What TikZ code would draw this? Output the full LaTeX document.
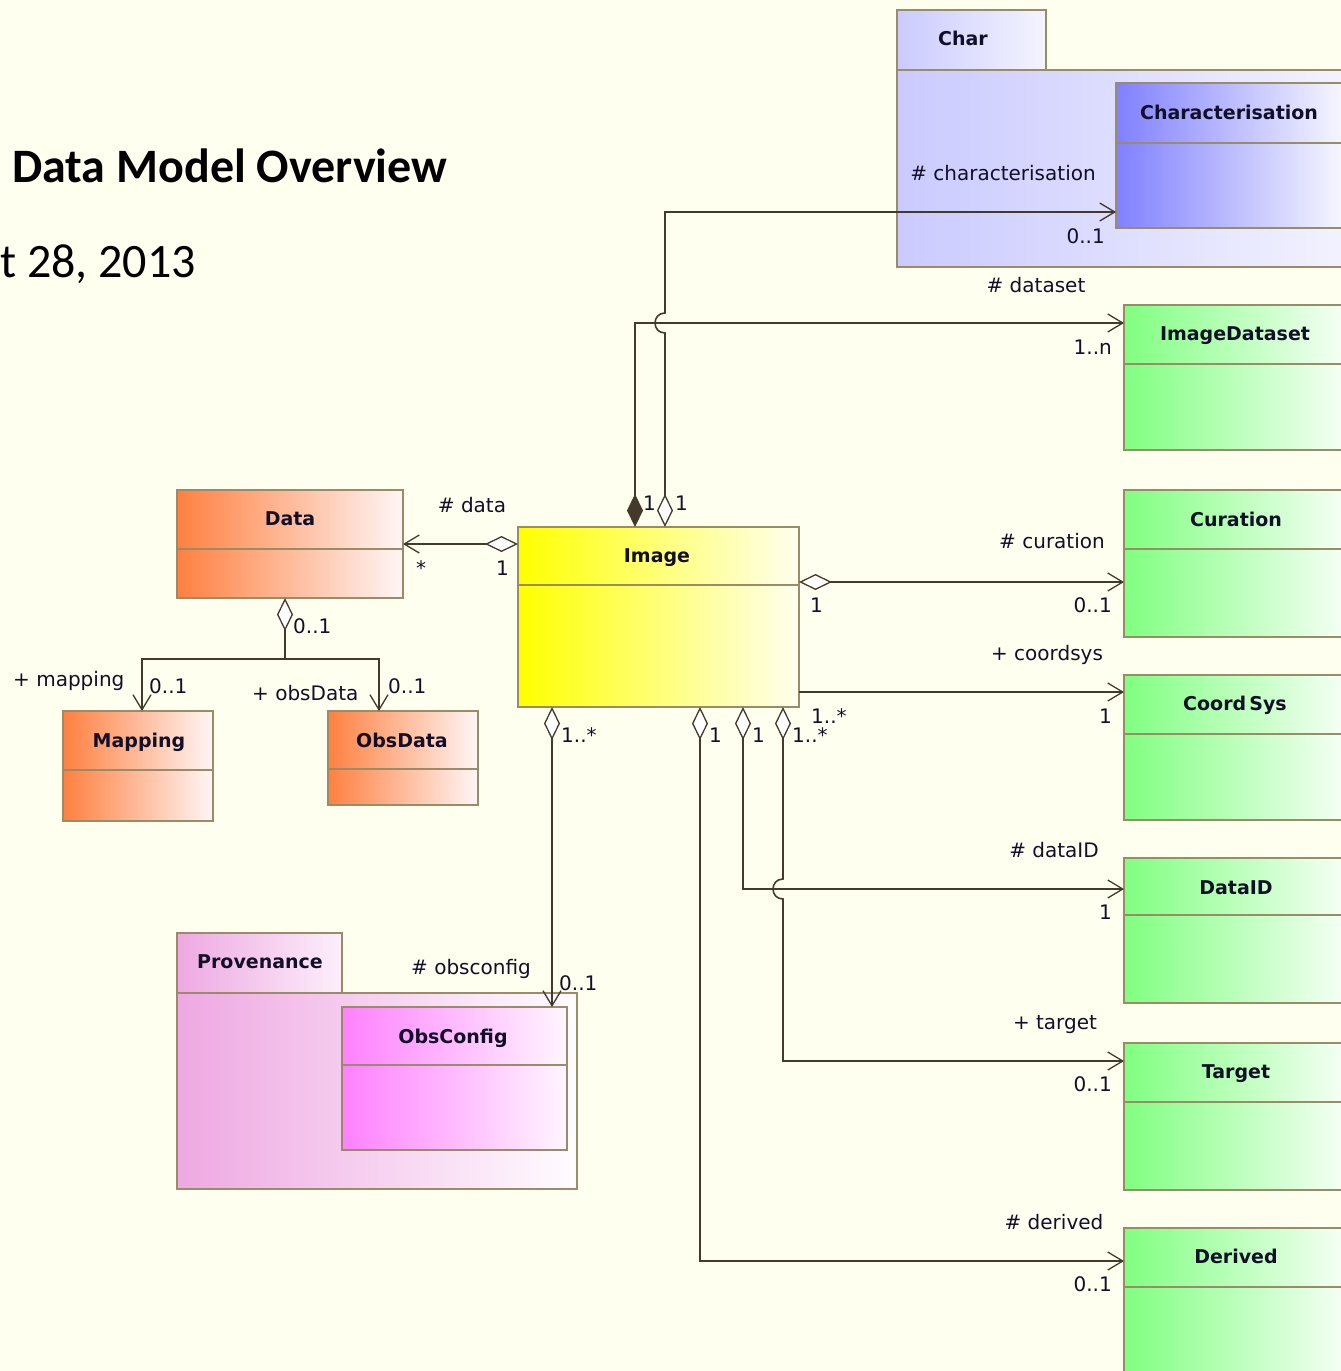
\documentclass[tikz,border=0pt]{standalone}
\usepackage{fontspec}
\setmainfont{DejaVu Sans}
\newfontfamily\headfont{Carlito}
\usetikzlibrary{arrows.meta,calc}

\definecolor{paper}{RGB}{255,255,240}
\definecolor{frame}{RGB}{155,140,105}
\definecolor{wire}{RGB}{68,58,44}
\definecolor{ink}{RGB}{18,16,40}
% class fills (left -> right gradient)
\definecolor{violetL}{RGB}{128,128,255}
\definecolor{violetR}{RGB}{246,246,255}
\definecolor{lilacL}{RGB}{202,202,255}
\definecolor{lilacR}{RGB}{244,244,255}
\definecolor{greenL}{RGB}{128,255,128}
\definecolor{greenR}{RGB}{246,255,246}
\definecolor{yellowL}{RGB}{255,255,0}
\definecolor{yellowR}{RGB}{255,255,240}
\definecolor{orangeL}{RGB}{255,128,64}
\definecolor{orangeR}{RGB}{255,246,246}
\definecolor{pinkL}{RGB}{238,168,226}
\definecolor{pinkR}{RGB}{255,252,255}
\definecolor{magentaL}{RGB}{255,128,255}
\definecolor{magentaR}{RGB}{255,246,255}

\tikzset{
  classbox/.style={draw=frame, line width=1.6pt, inner sep=0pt, outer sep=0pt, anchor=north west},
  cname/.style={font=\bfseries\fontsize{19}{22}\selectfont, text=ink, anchor=base, inner sep=0pt},
  role/.style={font=\fontsize{20}{24}\selectfont, text=ink, anchor=base, inner sep=0pt},
  multl/.style={role, anchor=base west},
  multr/.style={role, anchor=base east},
  assoc/.style={draw=wire, line width=1.6pt},
  nav/.style={arrows={-Straight Barb[length=15pt,width=18pt,line width=1.3pt]}},
  agg/.style={arrows={Diamond[fill=white,length=33pt,width=16pt,line width=1.3pt]-Straight Barb[length=15pt,width=18pt,line width=1.3pt]}},
  aggonly/.style={arrows={Diamond[fill=white,length=33pt,width=16pt,line width=1.3pt]-}},
  comp/.style={arrows={Diamond[fill=wire,length=33pt,width=16pt,line width=1.3pt]-Straight Barb[length=15pt,width=18pt,line width=1.3pt]}},
}

% #1 name, #2 top-left corner, #3 width, #4 height, #5 header height, #6/#7 gradient colours
\newcommand\umlclass[7]{%
  \node[classbox, left color=#6, right color=#7, minimum width=#3pt, minimum height=#4pt] (#1) at #2 {};
  \draw[frame, line width=1.6pt] ([yshift=-#5pt]#1.north west) -- ([yshift=-#5pt]#1.north east);
}

\begin{document}
\begin{tikzpicture}[x=1pt, y=-1pt]
  \fill[paper] (0,0) rectangle (1341,1371);
  \useasboundingbox (0,0) rectangle (1341,1371);
  \clip (0,0) rectangle (1341,1371);

  % heading
  \node[anchor=base west, inner sep=0pt, font=\headfont\bfseries\fontsize{48}{56}\selectfont] (title) at (12,182) {Data Model Overview};
  \node[anchor=base west, inner sep=0pt, font=\headfont\fontsize{48}{56}\selectfont] (date) at (0,277) {t 28, 2013};

  % Char package
  \node[classbox, left color=lilacL, right color=lilacR, minimum width=149pt, minimum height=60pt] (chartab) at (897,10) {};
  \node[classbox, left color=lilacL, right color=lilacR, minimum width=470pt, minimum height=197pt] (charpkg) at (897,70) {};
  \node[cname] (chartabT) at (963,45) {Char};

  % Provenance package
  \node[classbox, left color=pinkL, right color=pinkR!85!pinkL, minimum width=165pt, minimum height=60pt] (provtab) at (177,933) {};
  \node[classbox, left color=pinkL, right color=pinkR, minimum width=400pt, minimum height=196pt] (provpkg) at (177,993) {};
  \node[cname] (provtabT) at (260,968) {Provenance};

  % classes
  \umlclass{chz}{(1116,83)}{226}{145}{60}{violetL}{violetR}
  \node[cname] (chzT) at (1229,119) {Characterisation};

  \umlclass{imgds}{(1124,305)}{222}{145}{59}{greenL}{greenR}
  \node[cname] (imgdsT) at (1235,340) {ImageDataset};

  \umlclass{cur}{(1124,490)}{222}{147}{59}{greenL}{greenR}
  \node[cname] (curT) at (1236,526) {Curation};

  \umlclass{crd}{(1124,675)}{222}{145}{59}{greenL}{greenR}
  \node[cname] (crdT) at (1235,710) {Coord\,Sys};

  \umlclass{did}{(1124,858)}{222}{145}{57}{greenL}{greenR}
  \node[cname] (didT) at (1236,894) {DataID};

  \umlclass{tgt}{(1124,1043)}{222}{147}{59}{greenL}{greenR}
  \node[cname] (tgtT) at (1236,1078) {Target};

  \umlclass{der}{(1124,1228)}{222}{160}{59}{greenL}{greenR}
  \node[cname] (derT) at (1236,1263) {Derived};

  \umlclass{img}{(518,527)}{281}{180}{58}{yellowL}{yellowR}
  \node[cname] (imgT) at (657,562) {Image};

  \umlclass{data}{(177,490)}{226}{108}{59}{orangeL}{orangeR}
  \node[cname] (dataT) at (290,525) {Data};

  \umlclass{map}{(63,711)}{150}{110}{59}{orangeL}{orangeR}
  \node[cname] (mapT) at (139,747) {Mapping};

  \umlclass{obsd}{(328,711)}{150}{94}{58}{orangeL}{orangeR}
  \node[cname] (obsdT) at (402,747) {ObsData};

  \umlclass{obsc}{(342,1007)}{225}{143}{58}{magentaL}{magentaR}
  \node[cname] (obscT) at (453,1043) {ObsConfig};

  % Image -> Data
  \draw[assoc, agg] (img.west |- data.east) -- (data.east);
  \node[role] (lData) at (472,512) {\# data};
  \node[multl] (mDataA) at (416,575) {*};
  \node[multl] (mDataB) at (496,575) {1};

  % Data -> Mapping, ObsData
  \coordinate (fork) at (285,659);
  \draw[assoc, aggonly] ([xshift=108pt]data.south west) -- (fork);
  \draw[assoc, nav] (fork) -| ([xshift=79pt]map.north west);
  \draw[assoc, nav] (fork) -| ([xshift=51pt]obsd.north west);
  \node[multl] (mFork) at (293,633) {0..1};
  \node[multl] (lMap) at (13,686) {+ mapping};
  \node[multl] (mMap) at (149,693) {0..1};
  \node[multl] (lObsd) at (252,700) {+ obsData};
  \node[multl] (mObsd) at (388,693) {0..1};

  % Image -> ImageDataset
  \draw[assoc, comp] ([xshift=117pt]img.north west) |- ([yshift=-18pt]imgds.north west);
  \node[role] (lDs) at (1036,292) {\# dataset};
  \node[multr] (mDs) at (1112,354) {1..n};

  % Image -> Characterisation (hops over the dataset line)
  \draw[assoc, agg] ([xshift=147pt]img.north west) -- (665,333)
      .. controls (651.7,333) and (651.7,313) .. (665,313)
      |- ([yshift=-129pt]chz.north west);
  \node[role] (lChz) at (1003,180) {\# characterisation};
  \node[multr] (mChz) at (1105,243) {0..1};
  \node[multl] (mImgA) at (643,510) {1};
  \node[multl] (mImgB) at (675,510) {1};

  % Image -> Curation
  \draw[assoc, agg] ([yshift=-55pt]img.north east) -- ([yshift=-55pt]img.north east -| cur.west);
  \node[role] (lCur) at (1052,548) {\# curation};
  \node[multl] (mCurA) at (810,612) {1};
  \node[multr] (mCurB) at (1112,612) {0..1};

  % Image -> CoordSys
  \draw[assoc, nav] ([yshift=-165pt]img.north east) -- ([yshift=-165pt]img.north east -| crd.west);
  \node[role] (lCrd) at (1047,660) {+ coordsys};
  \node[multl] (mCrdA) at (811,723) {1..*};
  \node[multr] (mCrdB) at (1112,723) {1};

  % Image -> ObsConfig
  \draw[assoc, agg] ([xshift=34pt]img.south west) -- ([xshift=34pt]img.south west |- obsc.north);
  \node[role] (lObsc) at (471,974) {\# obsconfig};
  \node[multl] (mObsc) at (559,990) {0..1};
  \node[multl] (mObscA) at (561,742) {1..*};

  % Image -> Derived
  \draw[assoc, agg] ([xshift=182pt]img.south west) |- ([yshift=-33pt]der.north west);
  \node[role] (lDer) at (1054,1229) {\# derived};
  \node[multr] (mDer) at (1112,1291) {0..1};
  \node[multl] (mDerA) at (709,742) {1};

  % Image -> DataID
  \draw[assoc, agg] ([xshift=225pt]img.south west) |- ([yshift=-31pt]did.north west);
  \node[role] (lDid) at (1054,857) {\# dataID};
  \node[multr] (mDid) at (1112,919) {1};
  \node[multl] (mDidA) at (752,742) {1};

  % Image -> Target (hops over the dataID line)
  \draw[assoc, agg] ([xshift=265pt]img.south west) -- (783,879)
      .. controls (769.7,879) and (769.7,899) .. (783,899)
      |- ([yshift=-18pt]tgt.north west);
  \node[role] (lTgt) at (1055,1029) {+ target};
  \node[multr] (mTgt) at (1112,1091) {0..1};
  \node[multl] (mTgtA) at (792,742) {1..*};
\end{tikzpicture}
\end{document}
